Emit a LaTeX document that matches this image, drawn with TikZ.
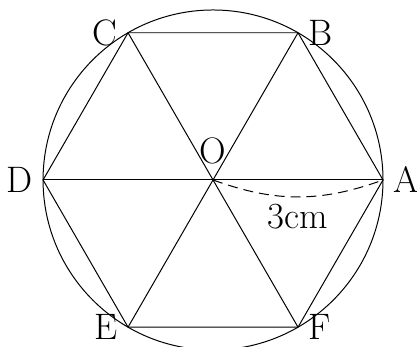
\documentclass[tikz,border=0pt]{standalone}
\usepackage{tikz}
\begin{document}
\begin{tikzpicture}[font=\fontsize{18.5}{22}\selectfont, line width=0.5pt,
    vlabel/.style={inner sep=0.18cm}]
    \useasboundingbox (-3.76,-2.947) rectangle (3.6,3.176);
    \coordinate[label={[vlabel, label distance=0.1cm]above:O}] (O) at (0,0);
    \coordinate[label={[vlabel]right:A}] (A) at (0:3);
    \coordinate[label={[vlabel]right:B}] (B) at (60:3);
    \coordinate[label={[vlabel]left:C}]  (C) at (120:3);
    \coordinate[label={[vlabel]left:D}]  (D) at (180:3);
    \coordinate[label={[vlabel]left:E}]  (E) at (240:3);
    \coordinate[label={[vlabel]right:F}] (F) at (300:3);
    \draw (O) circle (3);
    \draw (A) -- (B) -- (C) -- (D) -- (E) -- (F) -- cycle;
    \draw (A) -- (D);
    \draw (B) -- (E);
    \draw (C) -- (F);
    \draw[dash pattern=on 5pt off 3pt] (O) to[bend right=20] node[below] {3cm} (A);
\end{tikzpicture}
\end{document}
